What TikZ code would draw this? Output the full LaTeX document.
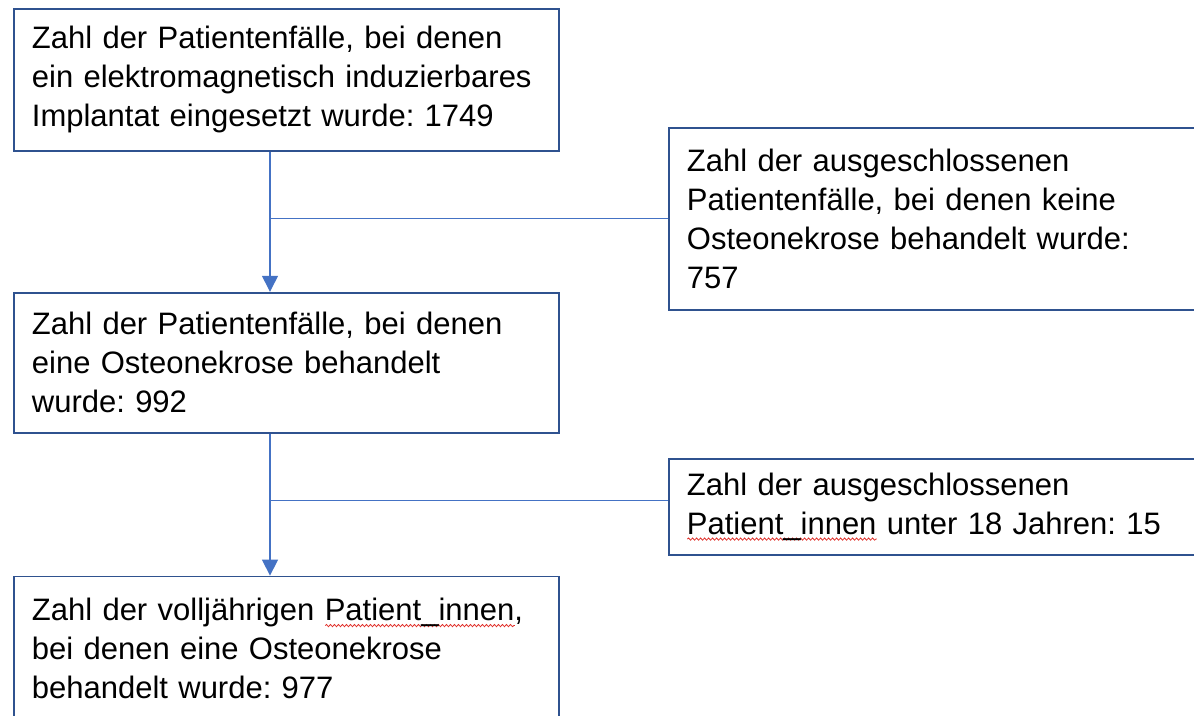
\documentclass[tikz,border=0pt]{standalone}
\usepackage{fontspec}
\setmainfont{Liberation Sans}
\usepackage{xcolor}
\usepackage{tikz}
\usetikzlibrary{arrows.meta, positioning, calc, decorations.pathmorphing}
\definecolor{boxblue}{HTML}{2F528F}
\definecolor{linkblue}{HTML}{4472C4}
\definecolor{spellred}{HTML}{E0312B}
% red wavy spell-check underline
\newsavebox\spellbox
\newcommand\spellmark[1]{\leavevmode\sbox\spellbox{#1}%
	\rlap{\tikz[baseline=0pt]\draw[spellred, line width=0.8pt, decorate,
		decoration={snake, amplitude=1.1pt, segment length=4pt}]
		(0,-5pt) -- (\wd\spellbox,-5pt);}%
	\usebox\spellbox}
\tikzset{
node distance=5mm,
>={Triangle[width=16pt,length=16pt]},
flowbox/.style={%
    rectangle,
    draw=boxblue,
    line width=1.8pt,
    minimum width=545pt,
    minimum height=142pt,
    inner xsep=18pt,
    inner ysep=4pt,
    text width=509pt,
    align=left,
    text=black,
    font=\fontsize{31}{39}\selectfont\frenchspacing
},
exbox/.style={%
    flowbox,
    minimum width=540pt,
    text width=504pt,
},
link/.style={draw=linkblue,line width=1.3pt},
}
\begin{document}
\begin{tikzpicture}
	\useasboundingbox (0,-715pt) rectangle (1194pt,0);
	\clip (0,-715pt) rectangle (1194pt,0);
	\node[flowbox, anchor=north west] (implant) at (13pt,-8pt)
		{Zahl der Patientenfälle, bei denen\\ ein elektromagnetisch induzierbares\\ Implantat eingesetzt wurde: 1749};
	\node[flowbox, below=140pt of implant, minimum height=140pt] (necrosis)
		{Zahl der Patientenfälle, bei denen\\ eine Osteonekrose behandelt\\ wurde: 992};
	\node[flowbox, below=142pt of necrosis, minimum height=144pt] (adults)
		{Zahl der volljährigen \spellmark{Patient\_innen},\\ bei denen eine Osteonekrose\\ behandelt wurde: 977};

	\coordinate (stem1) at ($(implant.south west)+(257pt,0)$);
	\coordinate (j1) at ($(stem1)+(0,-67pt)$);
	\coordinate (stem2) at ($(necrosis.south west)+(257pt,0)$);
	\coordinate (j2) at ($(stem2)+(0,-67pt)$);

	\node[exbox, right=398pt of j1, minimum height=182pt] (nonecrosis)
		{Zahl der ausgeschlossenen\\ Patientenfälle, bei denen keine\\ Osteonekrose behandelt wurde:\\ 757};
	\node[exbox, right=398pt of j2, yshift=-6pt, minimum height=96pt] (minors)
		{Zahl der ausgeschlossenen\\ \spellmark{Patient\_innen} unter 18 Jahren: 15};

	% main flow
	\draw[link,->] (stem1) -- (stem1 |- necrosis.north);
	\draw[link,->] (stem2) -- (stem2 |- adults.north);
	% exclusions
	\draw[link] (j1) -- (j1 -| nonecrosis.west);
	\draw[link] (j2) -- (j2 -| minors.west);
\end{tikzpicture}
\end{document}
